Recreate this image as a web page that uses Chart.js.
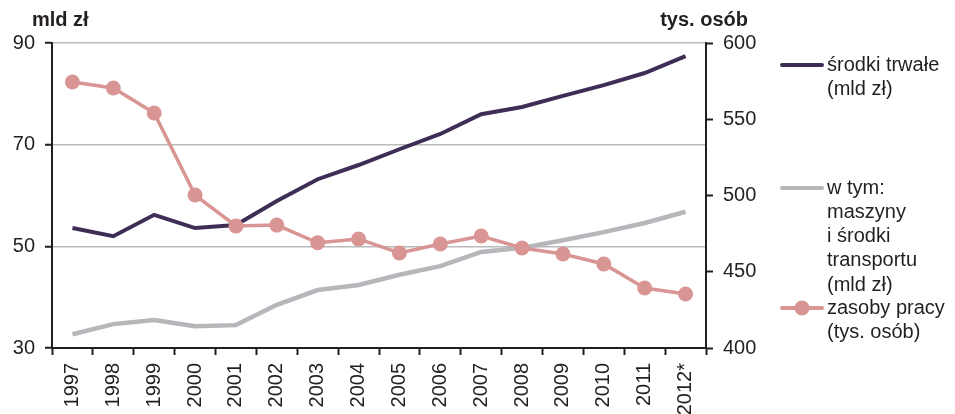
<!DOCTYPE html>
<html><head><meta charset="utf-8">
<script src="https://cdn.jsdelivr.net/npm/chart.js@4/dist/chart.umd.min.js"></script>
<style>html,body{margin:0;padding:0;background:#fff;overflow:hidden}#wrap{width:955px;height:414px;position:relative}</style>
</head><body><div id="wrap"><canvas id="c" width="955" height="414"></canvas></div>
<script>
const years = ['1997','1998','1999','2000','2001','2002','2003','2004','2005','2006','2007','2008','2009','2010','2011','2012*'];
const srodkiTrwale = [53.6,52.0,56.2,53.6,54.2,58.9,63.2,66.0,69.1,72.1,76.0,77.4,79.6,81.7,84.1,87.4];
const maszyny = [32.7,34.7,35.5,34.3,34.5,38.5,41.4,42.4,44.4,46.1,48.9,49.7,51.2,52.8,54.6,56.8];
const zasobyPracy = [574.4,570.5,554.1,500.3,480.0,480.6,469.0,471.5,462.3,468.2,473.4,465.6,461.6,455.1,439.3,435.4];
const leftTicks = [30,50,70,90];
const rightTicks = [400,450,500,550,600];
const leftTitle = 'mld zł';
const rightTitle = 'tys. osób';
const legendItems = [
  {lines:['środki trwałe','(mld zł)'], color:'#3e2d55', point:false},
  {lines:['w tym:','maszyny','i środki','transportu','(mld zł)'], color:'#b6b6bb', point:false},
  {lines:['zasoby pracy','(tys. osób)'], color:'#d99594', point:true}
];

const FONT = 'Liberation Sans, Arial, sans-serif';
const AX = '#231f20';
const GRID = '#b9b9b9';

const overlay = {
  id:'overlay',
  afterDraw(chart){
    const ctx = chart.ctx;
    ctx.save();
    ctx.fillStyle = AX;
    ctx.font = 'bold 20px ' + FONT;
    ctx.textBaseline = 'middle';
    ctx.textAlign = 'left';
    ctx.fillText(leftTitle, 32, 20);
    ctx.textAlign = 'right';
    ctx.fillText(rightTitle, 748, 20);
    // legend
    ctx.font = '20px ' + FONT;
    ctx.textAlign = 'left';
    const starts = [65, 188, 308];
    legendItems.forEach((it, i) => {
      const y0 = starts[i];
      ctx.strokeStyle = it.color;
      ctx.lineWidth = 4;
      ctx.lineCap = 'round';
      ctx.beginPath(); ctx.moveTo(782, y0); ctx.lineTo(822, y0); ctx.stroke();
      if (it.point){
        ctx.fillStyle = it.color;
        ctx.beginPath(); ctx.arc(802, y0, 7.5, 0, Math.PI*2); ctx.fill();
      }
      ctx.fillStyle = AX;
      it.lines.forEach((t, j) => ctx.fillText(t, 827, y0 + j*24.3));
    });
    ctx.restore();
  }
};

new Chart(document.getElementById('c'), {
  type:'line',
  data:{
    labels: years,
    datasets:[
      {label:'zasoby pracy (tys. osób)', data: zasobyPracy, yAxisID:'y1', borderColor:'#d99594', backgroundColor:'#d99594', borderWidth:3.5, pointRadius:7.5, pointHoverRadius:7.5, pointBorderWidth:0, tension:0, order:0},
      {label:'środki trwałe (mld zł)', data: srodkiTrwale, yAxisID:'y', borderColor:'#3e2d55', borderWidth:4, pointRadius:0, tension:0, order:1},
      {label:'w tym: maszyny i środki transportu (mld zł)', data: maszyny, yAxisID:'y', borderColor:'#b6b6bb', borderWidth:4.5, pointRadius:0, tension:0, order:2}
    ]
  },
  options:{
    responsive:false, animation:false,
    layout:{padding:{top:43, right:189, left:0, bottom:0}},
    plugins:{legend:{display:false}, tooltip:{enabled:false}},
    scales:{
      x:{
        offset:true,
        grid:{display:true, drawOnChartArea:false, offset:true, tickLength:7, tickColor:AX, tickWidth:2},
        border:{display:true, color:AX, width:2},
        ticks:{minRotation:90, maxRotation:90, autoSkip:false, color:AX, font:{family:FONT, size:20}, padding:8},
        afterFit(s){ s.height = 66; }
      },
      y:{
        position:'left', min:30, max:90,
        afterBuildTicks(s){ s.ticks = leftTicks.map(v=>({value:v})); },
        grid:{color:(c)=> c.tick && c.tick.value===30 ? 'rgba(0,0,0,0)' : GRID, lineWidth:1.5, tickLength:7, tickColor:AX, tickWidth:2},
        border:{display:true, color:AX, width:2},
        ticks:{color:AX, font:{family:FONT, size:20}, padding:10},
        afterFit(s){ s.width = 52; }
      },
      y1:{
        position:'right', min:400, max:600,
        afterBuildTicks(s){ s.ticks = rightTicks.map(v=>({value:v})); },
        grid:{drawOnChartArea:false, tickLength:7, tickColor:AX, tickWidth:2},
        border:{display:true, color:AX, width:2},
        ticks:{color:AX, font:{family:FONT, size:20}, padding:10},
        afterFit(s){ s.width = 60; }
      }
    }
  },
  plugins:[overlay]
});
</script></body></html>
